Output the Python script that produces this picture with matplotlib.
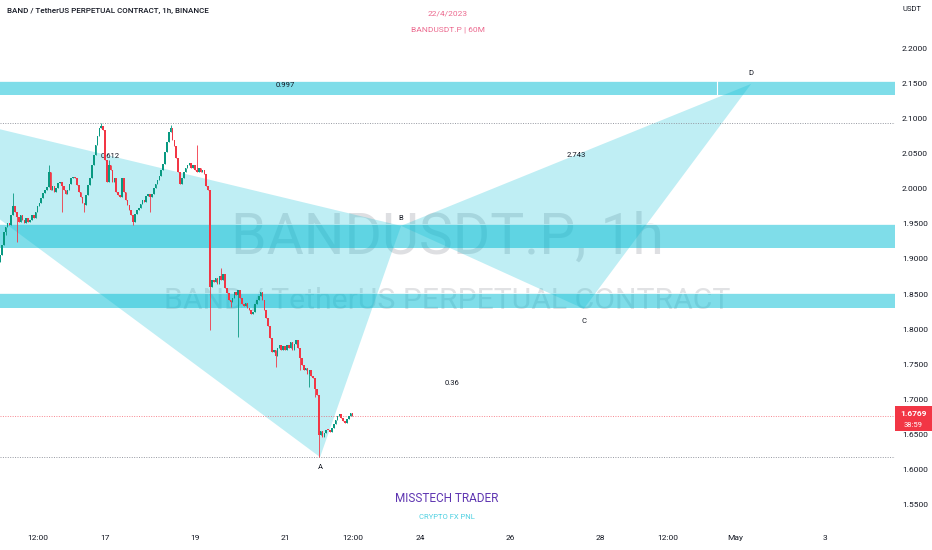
import numpy as np
import matplotlib
matplotlib.use('Agg')
import matplotlib.pyplot as plt
from matplotlib.patches import Polygon, Rectangle

plt.rcParams['font.family'] = ['Roboto', 'DejaVu Sans']

# ---- data (BANDUSDT.P, 1h) ----
t0 = 14 + 16 / 24          # first candle: 14 Apr 16:00 (x axis in April days)
first_open = 1.895
closes = [
    1.906, 1.920, 1.938, 1.945, 1.951, 1.948, 1.962, 1.975,
    1.967, 1.959, 1.953, 1.962, 1.955, 1.951, 1.958, 1.953,
    1.955, 1.962, 1.958, 1.967, 1.975, 1.980, 1.987, 1.994,
    1.998, 2.002, 2.023, 1.998, 2.004, 1.995, 2.001, 2.008,
    2.010, 2.004, 1.998, 1.992, 1.998, 2.006, 2.015, 2.017,
    2.015, 2.005, 1.995, 1.988, 1.980, 1.977, 1.991, 2.005,
    2.015, 2.034, 2.048, 2.062, 2.075, 2.086, 2.089, 2.083,
    2.041, 2.009, 2.034, 2.026, 2.009, 2.015, 1.995, 1.991,
    1.988, 2.015, 1.995, 1.984, 1.977, 1.970, 1.962, 1.952,
    1.964, 1.970, 1.972, 1.978, 1.984, 1.981, 1.989, 1.992,
    1.988, 1.992, 2.001, 2.006, 2.012, 2.018, 2.026, 2.035,
    2.052, 2.066, 2.080, 2.086, 2.069, 2.060, 2.043, 2.023,
    2.007, 2.015, 2.023, 2.029, 2.034, 2.036, 2.029, 2.034,
    2.026, 2.024, 2.029, 2.024, 2.026, 2.021, 2.004, 1.998,
    1.860, 1.870, 1.867, 1.873, 1.864, 1.876, 1.870, 1.878,
    1.859, 1.851, 1.842, 1.839, 1.845, 1.853, 1.848, 1.856,
    1.845, 1.836, 1.833, 1.837, 1.830, 1.827, 1.822, 1.825,
    1.836, 1.842, 1.847, 1.853, 1.842, 1.827, 1.816, 1.805,
    1.788, 1.768, 1.770, 1.762, 1.773, 1.777, 1.770, 1.776,
    1.770, 1.777, 1.773, 1.782, 1.770, 1.779, 1.785, 1.773,
    1.759, 1.749, 1.742, 1.745, 1.736, 1.742, 1.733, 1.731,
    1.715, 1.706, 1.650, 1.655, 1.647, 1.652, 1.657, 1.656,
    1.654, 1.660, 1.665, 1.671, 1.677, 1.680, 1.674, 1.670,
    1.667, 1.672, 1.677, 1.681, 1.6769,
]
# visible wick extremes (candle index -> price)
wick_highs = {7: 1.994, 26: 2.034, 54: 2.094, 58: 2.040, 91: 2.090, 105: 2.062, 118: 1.887}
wick_lows = {3: 1.934, 9: 1.924, 33: 1.967, 45: 1.967, 71: 1.948, 80: 1.967, 112: 1.799,
             123: 1.832, 127: 1.789, 147: 1.746, 160: 1.742, 165: 1.718, 168: 1.704, 170: 1.618}

# XABCD pattern points (time in April days, price)
pat_names = ['X', 'A', 'B', 'C', 'D']
pat_time = [10.67, 21.78, 23.58, 27.64, 31.36]
pat_price = [2.146, 1.618, 1.947, 1.829, 2.149]
ratio_pairs = [('X', 'B', '0.612'), ('A', 'C', '0.36'), ('B', 'D', '2.743'), ('X', 'D', '0.997')]

# support / resistance zones (low, high)
zones = [(2.133, 2.153), (1.915, 1.950), (1.830, 1.8515)]
top_zone_split = 30.6

hi_line = 2.093
lo_line = 1.618
last_price = 1.6769
countdown = '38:59'

price_ticks = [2.20, 2.15, 2.10, 2.05, 2.00, 1.95, 1.90, 1.85, 1.80, 1.75, 1.70, 1.65, 1.60, 1.55]
time_ticks = [15.5, 17, 19, 21, 22.5, 24, 26, 28, 29.5, 31, 33]
time_labels = ['12:00', '17', '19', '21', '12:00', '24', '26', '28', '12:00', 'May', '3']

GREEN = '#089981'
RED = '#f23645'
CYAN = '#00bcd4'
W, H = 932, 550

fig = plt.figure(figsize=(W / 100, H / 100), dpi=100)
ax = fig.add_axes([0, 23 / H, 895 / W, 527 / H])
ax.set_xlim(14.667, 34.556)
ax.set_ylim(1.5186, 2.2683)
for s in ax.spines.values():
    s.set_visible(False)

# watermark
ax.text(0.5, 0.548, 'BANDUSDT.P, 1h', transform=ax.transAxes, ha='center', va='center',
        fontsize=41, color='#787b86', alpha=0.24, zorder=0.5)
ax.text(0.5, 0.429, 'BAND / TetherUS PERPETUAL CONTRACT', transform=ax.transAxes,
        ha='center', va='center', fontsize=21.7, color='#787b86', alpha=0.22, zorder=0.5)

# zones
for i, (lo, hi) in enumerate(zones):
    ax.add_patch(Rectangle((10, lo), 30, hi - lo, facecolor=CYAN, alpha=0.5,
                           edgecolor='none', zorder=1))
    ax.plot([10, 40], [hi, hi], color='white', lw=0.6, zorder=1.1)
ax.plot([top_zone_split, top_zone_split], zones[0], color='white', lw=0.8, zorder=1.2)

# pattern triangles
pts = dict(zip(pat_names, zip(pat_time, pat_price)))
for tri in [('X', 'A', 'B'), ('B', 'C', 'D')]:
    ax.add_patch(Polygon([pts[k] for k in tri], closed=True, facecolor=CYAN,
                         alpha=0.25, edgecolor='none', zorder=1.5))

lab = dict(fontsize=5.5, color='#131722', ha='center', va='center', zorder=2)
for a, b, r in ratio_pairs:
    ax.text((pts[a][0] + pts[b][0]) / 2, (pts[a][1] + pts[b][1]) / 2, r, **lab)
offs = {'A': -0.0145, 'B': 0.011, 'C': -0.0175, 'D': 0.0155}
for k, dy in offs.items():
    ax.text(pts[k][0], pts[k][1] + dy, k, **lab)

# horizontal price lines
ax.axhline(hi_line, color='#9598a1', lw=0.7, ls=(0, (1, 1.5)), zorder=1.8)
ax.axhline(lo_line, color='#9598a1', lw=0.7, ls=(0, (1, 1.5)), zorder=1.8)
ax.axhline(last_price, color=RED, lw=0.7, ls=(0, (1, 1.5)), alpha=0.6, zorder=1.8)

# candles
closes_a = np.array(closes)
n = len(closes_a)
t = t0 + np.arange(n) / 24
opens = np.r_[first_open, closes_a[:-1]]
cols = np.where(closes_a >= opens, GREEN, RED)
highs = np.maximum(opens, closes_a)
lows = np.minimum(opens, closes_a)
for i, v in wick_highs.items():
    highs[i] = v
for i, v in wick_lows.items():
    lows[i] = v
ax.vlines(t, lows, highs, colors=cols, lw=0.6, zorder=3)
body = np.where(np.abs(closes_a - opens) < 0.0015, 0.0015, closes_a - opens)
ax.bar(t, body, bottom=opens, width=0.038, color=cols, linewidth=0, zorder=3.1)

# axes ticks
ax.yaxis.tick_right()
ax.set_yticks(price_ticks)
ax.set_yticklabels([f'{p:.4f}' for p in price_ticks])
ax.set_xticks(time_ticks)
ax.set_xticklabels(time_labels)
ax.tick_params(axis='y', length=0, pad=5, labelsize=6, colors='#131722')
ax.tick_params(axis='x', length=0, pad=6, labelsize=6, colors='#131722')

# header / footer texts
fig.text(7 / W, 1 - 11 / H, 'BAND / TetherUS PERPETUAL CONTRACT, 1h, BINANCE',
         fontsize=5.8, color='#131722', va='center', ha='left', weight='medium')
fig.text(448 / W, 1 - 13 / H, '22/4/2023', fontsize=6, color='#ec6a8f', ha='center', va='center')
fig.text(448 / W, 1 - 30 / H, 'BANDUSDT.P | 60M', fontsize=6, color='#ec6a8f',
         ha='center', va='center')
fig.text(447 / W, 1 - 498 / H, 'MISSTECH TRADER', fontsize=8.5, color='#5e35b1',
         ha='center', va='center')
fig.text(447 / W, 1 - 517 / H, 'CRYPTO FX PNL', fontsize=5.5, color='#4dd0e1',
         ha='center', va='center')
fig.text(912 / W, 1 - 9 / H, 'USDT', fontsize=5.5, color='#131722', ha='center', va='center')

# last price tag
fig.patches.append(Rectangle((895 / W, 1 - 431 / H), 37 / W, 25 / H, transform=fig.transFigure,
                             facecolor=RED, edgecolor='none', zorder=5))
fig.text(913 / W, 1 - 413 / H, f'{last_price:.4f}', fontsize=6, color='white',
         ha='center', va='center', weight='bold', zorder=6)
fig.text(913 / W, 1 - 425 / H, countdown, fontsize=5.5, color='white',
         ha='center', va='center', zorder=6)

fig.savefig('out.png', dpi=100)
